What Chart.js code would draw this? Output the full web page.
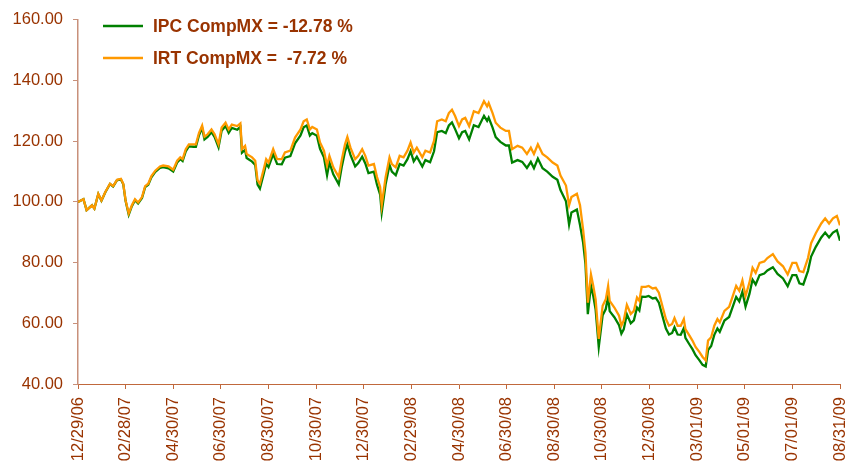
<!DOCTYPE html>
<html>
<head>
<meta charset="utf-8">
<script src="https://cdn.jsdelivr.net/npm/chart.js@4.4.1/dist/chart.umd.min.js"></script>
<style>
  html, body { margin: 0; padding: 0; background: #fff; }
  #wrap { width: 849px; height: 470px; }
</style>
</head>
<body>
<div id="wrap"><canvas id="chart" width="849" height="470"></canvas></div>
<script>
  // Tick labels along the date axis (every two months)
  var tickLabels = ['12/29/06', '02/28/07', '04/30/07', '06/30/07', '08/30/07', '10/30/07',
    '12/30/07', '02/29/08', '04/30/08', '06/30/08', '08/30/08', '10/30/08', '12/30/08',
    '03/01/09', '05/01/09', '07/01/09', '08/31/09'];

  var seriesLabels = ['IPC CompMX = -12.78 %', 'IRT CompMX =  -7.72 %'];

  // Days elapsed since 12/29/06 for each sampled point
  var days = [
    0, 7, 11, 18, 21, 26, 30, 35, 41, 45,
    50, 55, 58, 61, 65, 69, 73, 77, 82, 86,
    90, 94, 99, 105, 109, 116, 122, 127, 131, 134,
    138, 142, 148, 151, 155, 159, 162, 166, 171, 175,
    180, 184, 189, 193, 197, 204, 208, 210, 214, 216,
    223, 227, 230, 233, 238, 241, 244, 250, 255, 261,
    265, 272, 278, 285, 289, 293, 297, 300, 306, 310,
    315, 319, 322, 327, 334, 338, 342, 345, 349, 355,
    359, 364, 368, 372, 379, 383, 387, 389, 394, 399,
    402, 407, 412, 417, 422, 426, 430, 434, 441, 445,
    451, 456, 460, 466, 471, 475, 479, 483, 488, 492,
    496, 501, 507, 513, 520, 524, 526, 531, 535, 541,
    548, 552, 556, 563, 569, 575, 580, 584, 589, 595,
    601, 608, 614, 618, 625, 629, 632, 639, 643, 647,
    650, 653, 657, 660, 663, 667, 672, 676, 679, 681,
    687, 693, 696, 699, 703, 708, 712, 716, 719, 722,
    727, 731, 736, 740, 744, 749, 753, 757, 761, 764,
    768, 772, 776, 778, 783, 787, 791, 796, 800, 804,
    807, 811, 815, 819, 822, 828, 834, 838, 843, 847,
    851, 855, 860, 864, 868, 873, 879, 883, 890, 896,
    903, 909, 915, 920, 924, 929, 935, 939, 945, 952,
    957, 962, 967, 972, 976
  ];

  // IPC CompMX, rebased to 100
  var ipc = [
    100, 100.9, 97.3, 98.9, 97.8, 102.6, 100.4, 103.2, 105.9, 105.1,
    107.2, 107.4, 105.8, 100.3, 95.8, 98.6, 100.6, 99.5, 101.3, 104.9,
    105.7, 108.1, 109.9, 111.2, 111.5, 111.1, 110.0, 113.0, 114.1, 113.5,
    116.7, 118.3, 118.2, 118.2, 122.0, 124.4, 120.6, 121.4, 123.0, 121.4,
    118.0, 123.5, 125.0, 122.8, 124.4, 123.8, 124.7, 116.2, 117.2, 114.5,
    113.3, 112.2, 105.7, 104.4, 109.4, 112.6, 111.5, 115.8, 112.5, 112.4,
    114.6, 115.1, 119.3, 121.9, 124.6, 125.2, 121.9, 122.7, 121.8, 117.5,
    114.7, 108.8, 113.0, 109.1, 105.8, 111.8, 116.6, 119.0, 115.5, 111.7,
    112.8, 114.9, 112.7, 109.5, 110.0, 105.7, 102.4, 96.5, 105.8, 112.2,
    110.0, 108.8, 112.5, 112.0, 114.1, 116.7, 113.4, 114.9, 111.7, 113.8,
    113.1, 116.7, 123.0, 123.4, 122.7, 125.2, 126.2, 124.0, 121.0, 123.0,
    123.4, 120.6, 125.3, 124.7, 128.4, 126.7, 127.8, 124.5, 121.4, 119.8,
    118.6, 118.6, 113.0, 113.8, 113.2, 111.2, 113.2, 111.1, 114.3, 111.1,
    110.0, 108.3, 107.3, 103.9, 100.2, 92.5, 96.5, 97.5, 92.4, 86.5,
    79.5, 63.0, 72.5, 69.0, 64.5, 52.2, 62.7, 64.7, 68.9, 64.0,
    62.0, 59.4, 56.6, 58.0, 63.0, 60.0, 61.0, 65.2, 64.2, 68.8,
    68.7, 69.0, 68.2, 68.4, 66.8, 62.0, 58.3, 56.3, 56.8, 58.7,
    56.3, 56.2, 58.4, 55.2, 53.1, 51.5, 49.5, 47.8, 46.3, 45.8,
    51.2, 52.5, 56.2, 58.3, 57.2, 60.9, 62.1, 65.0, 68.7, 67.2,
    70.4, 65.5, 69.7, 74.4, 72.8, 75.9, 76.4, 77.4, 78.5, 76.3,
    74.8, 72.2, 75.9, 75.9, 73.2, 72.8, 77.3, 82.0, 85.2, 88.3,
    89.9, 88.3, 89.9, 90.7, 87.2
  ];

  // IRT CompMX, rebased to 100
  var irt = [
    100, 100.9, 97.3, 98.9, 97.8, 102.7, 100.5, 103.3, 106, 105.2,
    107.3, 107.6, 106, 100.5, 96.2, 98.9, 100.9, 99.8, 101.6, 105.2,
    106, 108.5, 110.3, 111.7, 112, 111.7, 110.6, 113.6, 114.7, 114.1,
    117.4, 119, 119, 119, 122.8, 125.2, 121.5, 122.3, 123.9, 122.3,
    119, 124.5, 126.1, 123.9, 125.5, 125, 125.9, 117.4, 118.5, 115.8,
    114.7, 113.6, 107.1, 106, 110.9, 114.1, 113, 117.4, 114.1, 114.1,
    116.3, 116.9, 121.2, 123.9, 126.6, 127.2, 123.9, 124.7, 123.9, 119.6,
    116.9, 112, 115.2, 111.4, 108.2, 114.1, 119, 121.4, 117.9, 114.1,
    115.2, 117.4, 115.2, 112, 112.5, 108.2, 104.9, 98.9, 108.2, 114.7,
    112.5, 111.4, 115.2, 114.7, 116.9, 119.6, 116.3, 117.9, 114.7, 116.9,
    116.3, 120.1, 126.6, 127.2, 126.6, 129.3, 130.4, 128.3, 125, 127.2,
    127.7, 125, 129.9, 129.3, 133.2, 131.5, 132.6, 129.3, 126.1, 124.5,
    123.4, 123.4, 117.4, 118.5, 117.9, 115.8, 117.9, 115.8, 119, 115.8,
    114.7, 113, 112, 108.7, 105.4, 98.9, 101.6, 102.7, 98.9, 90.8,
    83.2, 66.8, 76.1, 72.3, 67.9, 54.9, 65.8, 67.9, 72.3, 67.4,
    65.2, 62.5, 59.2, 60.9, 66.1, 63.1, 64.1, 68.5, 67.4, 72,
    72, 72.3, 71.5, 71.7, 70.1, 65.2, 61.4, 59.2, 59.8, 61.7,
    59.2, 59.2, 61.4, 58.1, 56, 54.3, 52.2, 50.5, 48.9, 47.8,
    54.3, 55.4, 59.2, 61.4, 60.3, 64.1, 65.4, 68.5, 72.3, 70.7,
    74.1, 69, 73.4, 78.3, 76.6, 79.9, 80.4, 81.5, 82.8, 80.4,
    78.8, 76.1, 79.9, 79.9, 77.2, 76.9, 81.5, 86.4, 89.7, 92.9,
    94.6, 92.9, 94.6, 95.4, 92.3
  ];

  var TEXT = '#993300';
  var FONT = 'Arial, "Liberation Sans", sans-serif';

  function dayOffset(label) {
    var p = label.split('/');
    var t = Date.UTC(2000 + (+p[2]), +p[0] - 1, +p[1]);
    return Math.round((t - Date.UTC(2006, 11, 29)) / 86400000);
  }
  var tickDays = tickLabels.map(dayOffset);

  function toPoints(values) {
    return values.map(function (v, i) { return { x: days[i], y: v }; });
  }

  // Legend drawn inside the plot, top-left
  var insideLegend = {
    id: 'insideLegend',
    afterDraw: function (chart) {
      var ctx = chart.ctx;
      ctx.save();
      chart.data.datasets.forEach(function (ds, i) {
        var y = 26 + i * 32;
        ctx.strokeStyle = ds.borderColor;
        ctx.lineWidth = 2.5;
        ctx.beginPath();
        ctx.moveTo(103, y);
        ctx.lineTo(143, y);
        ctx.stroke();
        ctx.fillStyle = TEXT;
        ctx.font = 'bold 17.5px ' + FONT;
        ctx.textBaseline = 'middle';
        ctx.textAlign = 'left';
        ctx.fillText(ds.label, 153, y + 1);
      });
      ctx.restore();
    }
  };

  new Chart(document.getElementById('chart').getContext('2d'), {
    type: 'line',
    data: {
      datasets: [{
        label: seriesLabels[0],
        data: toPoints(ipc),
        borderColor: '#008000',
        borderWidth: 2.3,
        pointRadius: 0,
        tension: 0,
        order: 1
      }, {
        label: seriesLabels[1],
        data: toPoints(irt),
        borderColor: '#FF9900',
        borderWidth: 2.3,
        pointRadius: 0,
        tension: 0,
        order: 0
      }]
    },
    options: {
      responsive: false,
      animation: false,
      devicePixelRatio: 1,
      layout: { padding: { top: 16, right: 9, bottom: 0, left: 0 } },
      plugins: {
        legend: { display: false },
        tooltip: { enabled: false }
      },
      scales: {
        x: {
          type: 'linear',
          min: 0,
          max: tickDays[tickDays.length - 1],
          afterBuildTicks: function (scale) {
            scale.ticks = tickDays.map(function (d) { return { value: d }; });
          },
          afterFit: function (scale) {
            scale.height = 86;
            scale.paddingRight = 0;
            scale.paddingLeft = 0;
          },
          ticks: {
            autoSkip: false,
            minRotation: 90,
            maxRotation: 90,
            padding: 8,
            color: TEXT,
            font: { family: FONT, size: 16.5 },
            callback: function (val, idx) { return tickLabels[idx]; }
          },
          grid: { drawOnChartArea: false, tickLength: 5, color: '#c0683c' },
          border: { color: '#c0683c', width: 1 }
        },
        y: {
          min: 40,
          max: 160,
          afterFit: function (scale) { scale.width = 78; },
          ticks: {
            stepSize: 20,
            padding: 10,
            color: TEXT,
            font: { family: FONT, size: 16.5 },
            callback: function (val) { return val.toFixed(2); }
          },
          grid: { drawOnChartArea: false, tickLength: 5, color: '#c8907a' },
          border: { color: '#c8907a', width: 1.5 }
        }
      }
    },
    plugins: [insideLegend]
  });
</script>
</body>
</html>
